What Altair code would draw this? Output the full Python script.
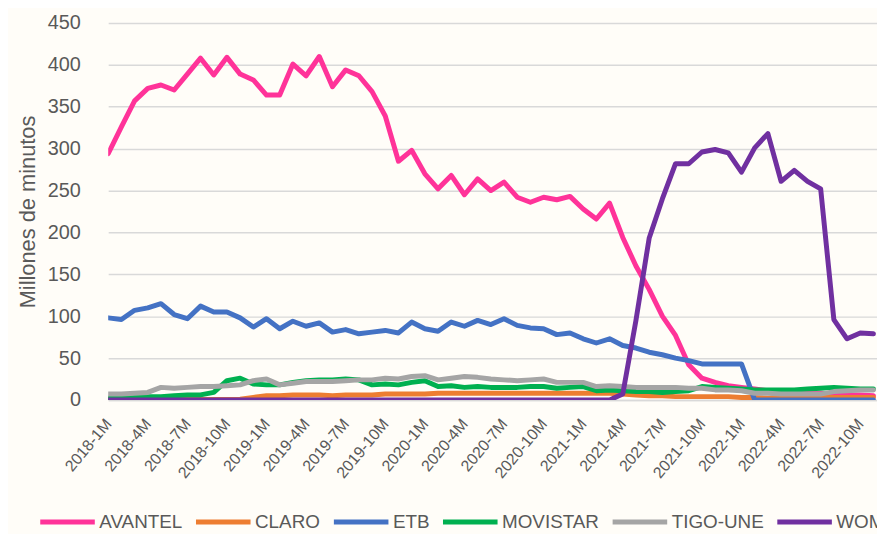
import altair as alt
import pandas as pd

meses = [
    "2018-1M", "2018-2M", "2018-3M", "2018-4M", "2018-5M", "2018-6M", "2018-7M", "2018-8M", "2018-9M", "2018-10M", "2018-11M", "2018-12M",
    "2019-1M", "2019-2M", "2019-3M", "2019-4M", "2019-5M", "2019-6M", "2019-7M", "2019-8M", "2019-9M", "2019-10M", "2019-11M", "2019-12M",
    "2020-1M", "2020-2M", "2020-3M", "2020-4M", "2020-5M", "2020-6M", "2020-7M", "2020-8M", "2020-9M", "2020-10M", "2020-11M", "2020-12M",
    "2021-1M", "2021-2M", "2021-3M", "2021-4M", "2021-5M", "2021-6M", "2021-7M", "2021-8M", "2021-9M", "2021-10M", "2021-11M", "2021-12M",
    "2022-1M", "2022-2M", "2022-3M", "2022-4M", "2022-5M", "2022-6M", "2022-7M", "2022-8M", "2022-9M", "2022-10M", "2022-11M",
]

operadores = ["AVANTEL", "CLARO", "ETB", "MOVISTAR", "TIGO-UNE", "WOM"]
colores = ["#FF3399", "#ED7D31", "#4472C4", "#00B050", "#A5A5A5", "#7030A0"]

avantel = [294, 326, 357, 372, 376, 370, 389, 408, 388, 409, 389, 382,
           364, 364, 401, 387, 410, 374, 394, 387, 368, 339, 285, 298,
           270, 252, 268, 245, 264, 250, 260, 242, 236, 242, 239, 243,
           228, 216, 235, 194, 160, 132, 100, 77, 42, 26, 21, 17,
           15, 13, 11, 10, 9, 8, 8, 7, 6, 6, 5]
claro = [0.5, 0.5, 0.5, 0.5, 0.5, 0.5, 0.5, 0.5, 0.5, 0.5, 1, 3,
         5, 5, 6, 6, 6, 5, 6, 6, 6, 7, 7, 7,
         7, 8, 8, 8, 8, 8, 8, 8, 8, 8, 8, 8,
         8, 8, 8, 7, 6, 5, 5, 4, 4, 4, 4, 4,
         3, 3, 2, 2, 2, 2, 3, 3, 3, 3, 3]
etb = [98, 96, 107, 110, 115, 102, 97, 112, 105, 105, 98, 87,
       97, 85, 94, 88, 92, 81, 84, 79, 81, 83, 80, 93,
       85, 82, 93, 88, 95, 90, 97, 89, 86, 85, 78, 80,
       73, 68, 73, 65, 62, 57, 54, 50, 47, 43, 43, 43,
       43, 0, 0, 0, 0, 0, 0, 0, 0, 0, 0]
movistar = [2, 2, 3, 4, 4, 5, 6, 6, 9, 23, 26, 19,
            18, 18, 21, 23, 24, 24, 25, 24, 18, 19, 18, 21,
            23, 16, 17, 15, 16, 15, 15, 15, 16, 16, 14, 15,
            16, 11, 12, 11, 10, 10, 9, 10, 11, 16, 15, 14,
            13, 12, 12, 12, 12, 13, 14, 15, 14, 13, 13]
tigo_une = [7, 7, 8, 9, 15, 14, 15, 16, 16, 17, 18, 23,
            25, 18, 20, 22, 22, 22, 23, 24, 24, 26, 25, 28,
            29, 24, 26, 28, 27, 25, 24, 23, 24, 25, 21, 21,
            21, 16, 17, 16, 15, 15, 15, 15, 14, 14, 12, 12,
            11, 8, 8, 7, 7, 7, 7, 10, 11, 12, 12]
wom = [0, 0, 0, 0, 0, 0, 0, 0, 0, 0, 0, 0,
       0, 0, 0, 0, 0, 0, 0, 0, 0, 0, 0, 0,
       0, 0, 0, 0, 0, 0, 0, 0, 0, 0, 0, 0,
       0, 0, 0, 7, 95, 193, 240, 282, 282, 296, 299, 295,
       272, 301, 318, 261, 274, 261, 252, 96, 73, 80, 79]

series = [avantel, claro, etb, movistar, tigo_une, wom]
rows = []
for op, vals in zip(operadores, series):
    for i, v in enumerate(vals):
        rows.append({"idx": i, "mes": meses[i], "operador": op, "valor": v})
df = pd.DataFrame(rows)

FONT = "Liberation Sans, Arial, sans-serif"
TXT = "#595959"
GRID = "#D9D9D9"

label_expr = "[" + ",".join("'" + m + "'" for m in meses) + "][datum.value]"

chart = (
    alt.Chart(df)
    .mark_line(strokeWidth=5, strokeJoin="round", strokeCap="round", clip=True)
    .encode(
        x=alt.X(
            "idx:Q",
            scale=alt.Scale(domain=[0, 58.27], nice=False, zero=False),
            axis=alt.Axis(
                values=list(range(0, 58, 3)),
                labelExpr=label_expr,
                labelAngle=-50,
                labelAlign="right",
                labelBaseline="middle",
                labelPadding=21,
                labelFontSize=16,
                labelColor=TXT,
                labelFont=FONT,
                grid=False,
                ticks=False,
                domainColor=GRID,
                domainWidth=1.5,
                title=None,
                labelOverlap=False,
                labelBound=False,
                labelFlush=False,
            ),
        ),
        y=alt.Y(
            "valor:Q",
            scale=alt.Scale(domain=[0, 450], nice=False),
            axis=alt.Axis(
                values=list(range(0, 451, 50)),
                title="Millones de minutos",
                titleFont=FONT,
                titleFontSize=22,
                titleFontWeight="normal",
                titleColor=TXT,
                titleAngle=-90,
                titleAlign="center",
                titleBaseline="middle",
                titleX=-81,
                titleY=190,
                labelFont=FONT,
                labelFontSize=20,
                labelColor=TXT,
                labelPadding=28,
                ticks=False,
                domain=False,
                gridColor=GRID,
                gridWidth=1.5,
                labelOverlap=False,
            ),
        ),
        color=alt.Color(
            "operador:N",
            scale=alt.Scale(domain=operadores, range=colores),
            legend=alt.Legend(
                orient="none",
                legendX=-71,
                legendY=473,
                direction="horizontal",
                title=None,
                symbolType="stroke",
                symbolSize=3025,
                symbolStrokeWidth=5,
                labelFont=FONT,
                labelFontSize=19,
                labelColor=TXT,
                labelOffset=2,
                columnPadding=3,
                padding=0,
                labelLimit=300,
            ),
        ),
    )
    .properties(
        width=775,
        height=380,
        background="#FFFDF8",
        padding={"left": 101, "top": 13, "right": 0, "bottom": 133},
        autosize=alt.AutoSizeParams(type="none"),
    )
    .configure_view(stroke=None)
)

chart.save("out.html", embed_options={"renderer": "svg", "actions": False})
